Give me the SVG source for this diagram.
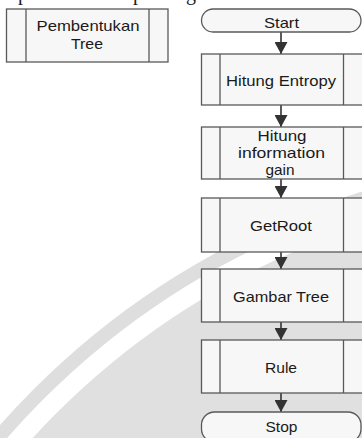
<svg xmlns="http://www.w3.org/2000/svg" width="362" height="438" viewBox="0 0 362 438">
  <style>
    .box{fill:#f7f7f7;stroke:#595959;stroke-width:1.3}
    .bar{fill:none;stroke:#595959;stroke-width:1.3}
    .lbl{font-family:"Liberation Sans",Arial,sans-serif;font-size:14.5px;fill:#1a1a1a;text-anchor:middle}
    .frag{font-family:"Liberation Serif",serif;font-size:20px;fill:#1a1a1a}
    .conn{stroke:#333;stroke-width:1.6;fill:none;marker-end:url(#ah)}
  </style>
  <defs>
    <marker id="ah" markerUnits="userSpaceOnUse" markerWidth="13" markerHeight="13" refX="12" refY="6.5" orient="auto">
      <path d="M0,0 L12,6.5 L0,13 z" fill="#333"/>
    </marker>
  </defs>
  <rect width="362" height="438" fill="#ffffff"/>
  <g id="watermark">
    <circle cx="597" cy="953" r="790" fill="none" stroke="#dedede" stroke-width="14"/>
    <circle cx="597" cy="953" r="764" fill="#e0e0e0"/>
  </g>
  <g id="fragments">
    <text class="frag" x="18" y="-0.5">p</text>
    <text class="frag" x="133" y="-0.5">p</text>
    <text class="frag" x="186" y="-0.5">g</text>
  </g>
  <g id="connectors">
    <line class="conn" x1="281" y1="32" x2="281" y2="54"/>
    <line class="conn" x1="281" y1="105" x2="281" y2="127"/>
    <line class="conn" x1="281" y1="179" x2="281" y2="198"/>
    <line class="conn" x1="281" y1="252" x2="281" y2="269"/>
    <line class="conn" x1="281" y1="322" x2="281" y2="340"/>
    <line class="conn" x1="281" y1="393" x2="281" y2="412"/>
  </g>
  <g id="pembentukan-tree">
    <rect class="box" x="6.5" y="9" width="161.5" height="53"/>
    <line class="bar" x1="26" y1="9" x2="26" y2="62"/>
    <line class="bar" x1="149" y1="9" x2="149" y2="62"/>
    <text class="lbl" x="88" y="31" textLength="103" lengthAdjust="spacingAndGlyphs">Pembentukan</text>
    <text class="lbl" x="87" y="49" textLength="32" lengthAdjust="spacingAndGlyphs">Tree</text>
  </g>
  <g id="start">
    <rect class="box" x="201.5" y="9" width="159.5" height="23" rx="11.5" ry="11.5"/>
    <text class="lbl" x="281.5" y="28" textLength="35" lengthAdjust="spacingAndGlyphs">Start</text>
  </g>
  <g id="hitung-entropy">
    <rect class="box" x="201.5" y="54" width="162" height="51"/>
    <line class="bar" x1="220" y1="54" x2="220" y2="105"/>
    <line class="bar" x1="343.5" y1="54" x2="343.5" y2="105"/>
    <text class="lbl" x="281" y="86" textLength="110" lengthAdjust="spacingAndGlyphs">Hitung Entropy</text>
  </g>
  <g id="hitung-information-gain">
    <rect class="box" x="201.5" y="127" width="162" height="52"/>
    <line class="bar" x1="220" y1="127" x2="220" y2="179"/>
    <line class="bar" x1="343.5" y1="127" x2="343.5" y2="179"/>
    <text class="lbl" x="282" y="141" textLength="49" lengthAdjust="spacingAndGlyphs">Hitung</text>
    <text class="lbl" x="281.5" y="158" textLength="87" lengthAdjust="spacingAndGlyphs">information</text>
    <text class="lbl" x="280" y="175" textLength="29" lengthAdjust="spacingAndGlyphs">gain</text>
  </g>
  <g id="getroot">
    <rect class="box" x="201.5" y="198" width="162" height="54"/>
    <line class="bar" x1="220" y1="198" x2="220" y2="252"/>
    <line class="bar" x1="343.5" y1="198" x2="343.5" y2="252"/>
    <text class="lbl" x="281" y="231" textLength="62" lengthAdjust="spacingAndGlyphs">GetRoot</text>
  </g>
  <g id="gambar-tree">
    <rect class="box" x="201.5" y="269" width="162" height="53"/>
    <line class="bar" x1="220" y1="269" x2="220" y2="322"/>
    <line class="bar" x1="343.5" y1="269" x2="343.5" y2="322"/>
    <text class="lbl" x="281" y="302" textLength="96" lengthAdjust="spacingAndGlyphs">Gambar Tree</text>
  </g>
  <g id="rule">
    <rect class="box" x="201.5" y="340" width="162" height="53"/>
    <line class="bar" x1="220" y1="340" x2="220" y2="393"/>
    <line class="bar" x1="343.5" y1="340" x2="343.5" y2="393"/>
    <text class="lbl" x="281" y="373" textLength="32" lengthAdjust="spacingAndGlyphs">Rule</text>
  </g>
  <g id="stop">
    <rect class="box" x="201.5" y="412" width="159.5" height="30" rx="13" ry="13"/>
    <text class="lbl" x="281.5" y="432" textLength="32" lengthAdjust="spacingAndGlyphs">Stop</text>
  </g>
</svg>
